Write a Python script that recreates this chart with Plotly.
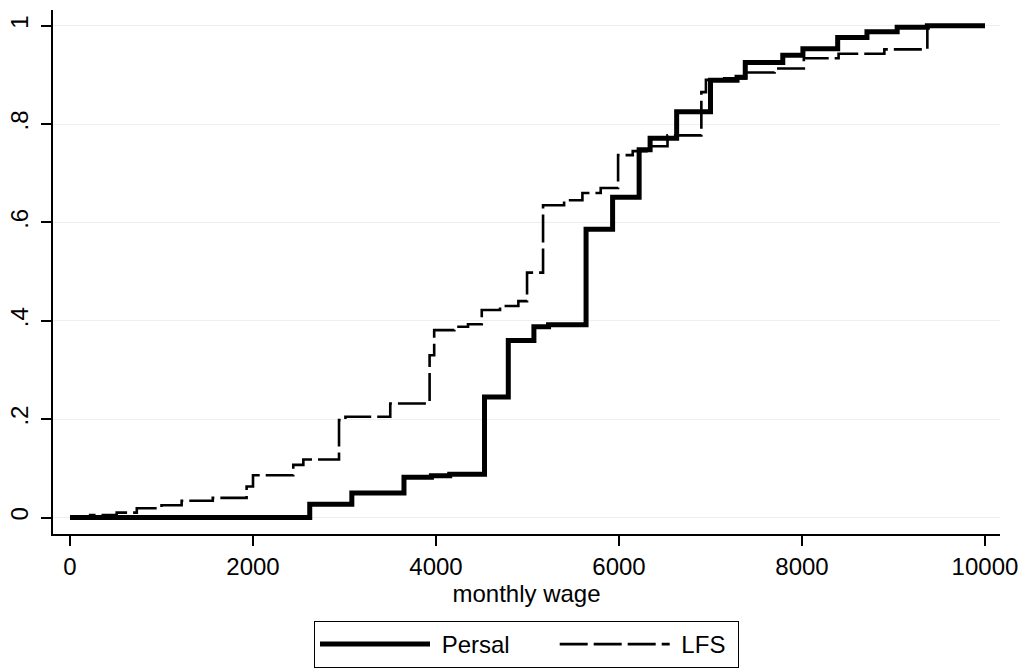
import plotly.graph_objects as go

# Persal empirical CDF (step points)
persal_wage = [0, 2620, 3080, 3650, 3950, 4150, 4530, 4790, 5070, 5230, 5640, 5930,
               6220, 6340, 6630, 7000, 7290, 7380, 7790, 8010, 8390, 8710, 9040, 9370, 10000]
persal_cdf = [0, 0.027, 0.05, 0.082, 0.085, 0.088, 0.245, 0.36, 0.388, 0.392, 0.586, 0.651,
              0.748, 0.771, 0.825, 0.889, 0.895, 0.925, 0.94, 0.953, 0.976, 0.988, 0.997, 1.0, 1.0]

# LFS empirical CDF (step points)
lfs_wage = [0, 220, 510, 730, 1000, 1220, 1560, 1930, 2000, 2440, 2550, 2940, 3010, 3500,
            3930, 3980, 4200, 4350, 4500, 4700, 4900, 4995, 5170, 5400, 5600, 5800, 5990,
            6150, 6300, 6530, 6900, 6950, 7150, 7400, 7700, 8020, 8400, 8900, 9370, 10000]
lfs_cdf = [0, 0.005, 0.01, 0.019, 0.025, 0.034, 0.04, 0.063, 0.086, 0.107, 0.118, 0.198, 0.205, 0.232,
           0.33, 0.381, 0.388, 0.393, 0.422, 0.43, 0.44, 0.498, 0.635, 0.645, 0.66, 0.67, 0.737,
           0.745, 0.755, 0.777, 0.865, 0.89, 0.893, 0.905, 0.913, 0.934, 0.943, 0.952, 1.0, 1.0]

series_names = ["Persal", "LFS"]

y_tickvals = [0, 0.2, 0.4, 0.6, 0.8, 1]
y_ticktext = ["0", ".2", ".4", ".6", ".8", "1"]
x_tickvals = [0, 2000, 4000, 6000, 8000, 10000]
x_ticktext = ["0", "2000", "4000", "6000", "8000", "10000"]

FONT = "Liberation Sans, Arial, sans-serif"
NB = "\u00a0"

fig = go.Figure()
fig.add_trace(go.Scatter(x=persal_wage, y=persal_cdf, mode="lines",
                         name=NB + series_names[0] + NB * 6,
                         line=dict(color="black", width=5, shape="hv")))
fig.add_trace(go.Scatter(x=lfs_wage, y=lfs_cdf, mode="lines",
                         name=NB + series_names[1] + NB,
                         line=dict(color="black", width=2.6, shape="hv", dash="28px,6px")))

fig.update_layout(
    width=1026, height=668,
    margin=dict(l=53, r=26, t=10, b=134, autoexpand=False),
    paper_bgcolor="white", plot_bgcolor="white",
    font=dict(family=FONT, size=24, color="black"),
    showlegend=True,
    legend=dict(orientation="h", x=0.5, xanchor="center", y=-0.166, yanchor="top",
                bordercolor="black", borderwidth=1, bgcolor="white",
                itemwidth=110, font=dict(size=24), traceorder="normal"),
    xaxis=dict(range=[-186, 10164], tickvals=x_tickvals, ticktext=x_ticktext,
               showgrid=False, zeroline=False, automargin=False,
               showline=True, linecolor="black", linewidth=1.5, ticks="outside",
               ticklen=10, tickcolor="black", tickwidth=1.5, ticklabelstandoff=0,
               title=dict(text="monthly wage", standoff=0, font=dict(size=24))),
    yaxis=dict(range=[-0.0335, 1.032], tickvals=y_tickvals, ticktext=y_ticktext,
               tickangle=-90, showgrid=True, gridcolor="#e8f0f1", gridwidth=1,
               zeroline=False, showline=True, linecolor="black", linewidth=1.5,
               automargin=False, ticklabelstandoff=4,
               ticks="outside", ticklen=10, tickcolor="black", tickwidth=1.5),
)

fig.write_html("out.html", config={"displayModeBar": False},
               post_script="document.body.style.margin='0';")
